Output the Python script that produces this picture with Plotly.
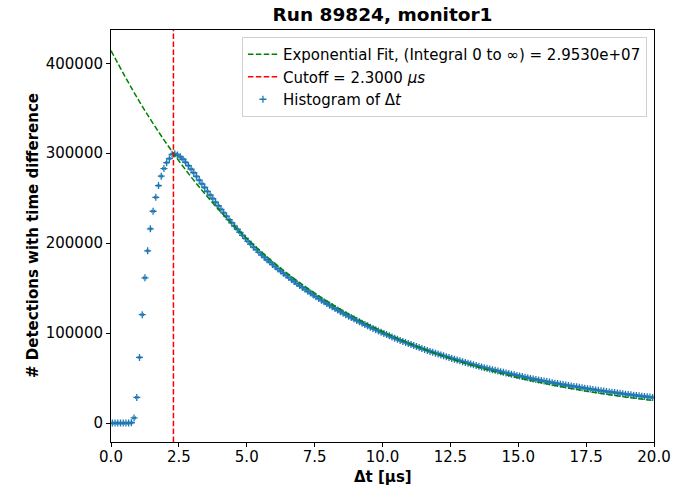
import plotly.graph_objects as go

# ---------------- data ----------------
bin_centers = [round(0.05 + 0.1 * i, 2) for i in range(200)]

counts = [
    0, 0, 0, 0, 0, 0, 50, 400, 5800, 28500,
    73000, 120500, 161500, 191500, 216000, 235500, 251000, 264000, 274500, 283000,
    289500, 294000, 298800, 299300, 298100, 296000, 293300, 289900, 286200, 282300,
    278300, 274200, 270100, 266000, 261900, 257700, 253600, 249600, 245500, 241600,
    237700, 233800, 230000, 226200, 222600, 219000, 215500, 212000, 208600, 205300,
    202000, 198900, 195700, 192900, 189800, 187100, 184400, 181600, 179100, 176400,
    173900, 171400, 169000, 166600, 164300, 161900, 159600, 157400, 155100, 152900,
    150800, 148700, 146600, 144500, 142500, 140600, 138600, 136700, 134800, 132900,
    131100, 129300, 127400, 125700, 123900, 122200, 120500, 118900, 117300, 115700,
    114200, 112600, 111100, 109600, 108100, 106700, 105300, 103900, 102500, 101100,
    99700, 98400, 97000, 95700, 94400, 93200, 91900, 90800, 89700, 88500,
    87400, 86200, 85100, 84000, 82900, 81800, 80800, 79700, 78700, 77700,
    76800, 75800, 74800, 73800, 72900, 71900, 71000, 70100, 69200, 68300,
    67500, 66600, 65700, 64900, 64000, 63200, 62400, 61600, 60900, 60100,
    59400, 58700, 57900, 57200, 56500, 55800, 55100, 54400, 53700, 53000,
    52400, 51700, 51000, 50400, 49700, 49100, 48500, 47900, 47300, 46700,
    46200, 45600, 45000, 44400, 43900, 43300, 42800, 42300, 41700, 41200,
    40800, 40300, 39800, 39300, 38800, 38300, 37800, 37400, 36900, 36400,
    36000, 35600, 35100, 34700, 34300, 33900, 33500, 33100, 32600, 32200,
    31800, 31400, 31100, 30700, 30300, 29900, 29600, 29200, 28900, 28500,
]
bin_half_width = [0.05] * 200

fit_x = list(range(0, 21))
fit_y = [414000, 359800, 312700, 271800, 236200, 205300, 178500, 155100, 134800,
         117200, 101800, 88500, 76900, 66900, 58100, 50500, 43900, 38200, 33200,
         28800, 25050]

cutoff = 2.3
title_text = "Run 89824, monitor1"
x_title = "Δt [μs]"
y_title = "# Detections with time difference"
x_ticks = [0.0, 2.5, 5.0, 7.5, 10.0, 12.5, 15.0, 17.5, 20.0]
y_ticks = [0, 100000, 200000, 300000, 400000]

# ---------------- figure ----------------
font_family = "DejaVu Sans"
dash = "5.5px,2.4px"
fig = go.Figure()

fig.add_trace(go.Scatter(
    x=bin_centers, y=counts, mode="markers",
    name="Histogram of Δ<i>t</i>",
    marker=dict(symbol="cross-thin", size=5, color="#1f77b4",
                line=dict(width=1.3, color="#1f77b4")),
    error_x=dict(type="data", array=bin_half_width, visible=True,
                 color="#1f77b4", thickness=1, width=1.5),
    legendrank=3, legendgroup="c",
))

fig.add_trace(go.Scatter(
    x=fit_x, y=fit_y, mode="lines", line_shape="spline",
    name="Exponential Fit, (Integral 0 to ∞) = 2.9530e+07",
    line=dict(color="green", width=1.5, dash=dash),
    legendrank=1, legendgroup="a",
))

fig.add_vline(x=cutoff, line=dict(color="red", width=1.5, dash=dash))
fig.add_trace(go.Scatter(
    x=[None], y=[None], mode="lines",
    name="Cutoff = 2.3000 <i>μs</i>",
    line=dict(color="red", width=1.5, dash=dash),
    legendrank=2, legendgroup="b",
))

axis_common = dict(
    showline=True, linecolor="black", linewidth=1, mirror=True,
    ticks="outside", ticklen=4, tickwidth=1, tickcolor="black",
    showgrid=False, zeroline=False, automargin=False,
    tickfont=dict(family=font_family, size=15, color="black"),
)

fig.add_annotation(text="<b>" + x_title + "</b>", xref="paper", yref="paper",
                   x=0.5, y=-0.085, xanchor="center", yanchor="middle",
                   showarrow=False, font=dict(family=font_family, size=15, color="black"))
fig.add_annotation(text="<b>" + y_title + "</b>", xref="paper", yref="paper",
                   x=-0.1436, y=0.5, xanchor="center", yanchor="middle",
                   textangle=-90, showarrow=False,
                   font=dict(family=font_family, size=15, color="black"))

fig.update_layout(
    width=690, height=485,
    margin=dict(l=111, r=36, t=30, b=43),
    paper_bgcolor="white", plot_bgcolor="white",
    font=dict(family=font_family, color="black"),
    title=dict(text="<b>" + title_text + "</b>", xref="paper", x=0.5,
               xanchor="center", y=0.97, yanchor="middle",
               font=dict(family=font_family, size=18.5, color="black")),
    xaxis=dict(range=[0, 20], tickvals=x_ticks, ticklabelstandoff=-3,
               ticktext=[f"{t:.1f}" for t in x_ticks], **axis_common),
    yaxis=dict(range=[-21000, 437000], tickvals=y_ticks,
               ticktext=[str(t) for t in y_ticks], **axis_common),
    legend=dict(x=0.987, y=0.983, xanchor="right", yanchor="top",
                bgcolor="rgba(255,255,255,0.8)", bordercolor="#d0d0d0",
                borderwidth=1, itemwidth=30, tracegroupgap=5,
                font=dict(family=font_family, size=15, color="black"),
                traceorder="normal"),
    showlegend=True,
)

fig.write_html("out.html")
